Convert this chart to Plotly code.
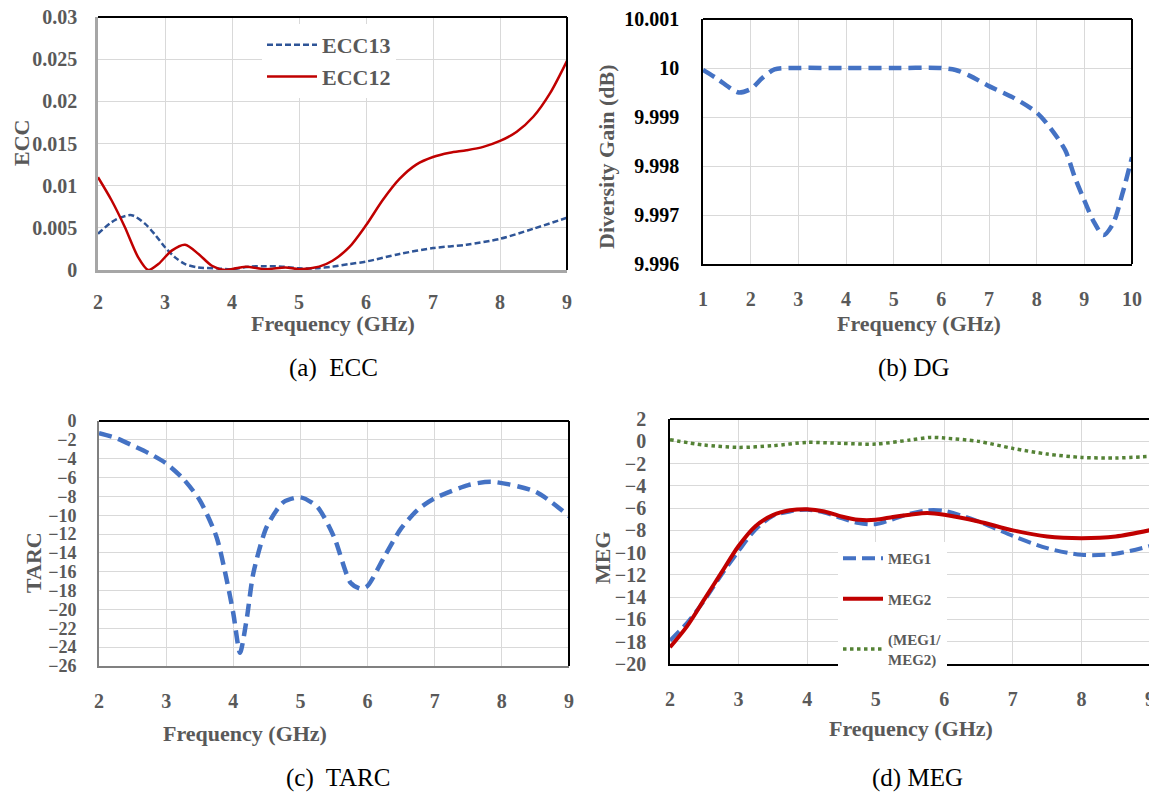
import plotly.graph_objects as go

# The page body has an 8px margin, so the figure is 8px smaller and every
# reference pixel position is shifted by OFF.
PAGE_W, PAGE_H = 1157, 793
OFF = 8
W, H = PAGE_W - OFF, PAGE_H - OFF

# ---------------- data ----------------
ecc13_freq = [2, 2.25, 2.5, 2.7, 2.85, 3.0, 3.15, 3.3, 3.5, 3.75, 4.0, 4.25, 4.5, 4.75, 5.0, 5.25, 5.5, 5.75, 6.0, 6.5, 7.0, 7.5, 8.0, 8.5, 9.0]
ecc13 = [0.0043, 0.0059, 0.0065, 0.0055, 0.0042, 0.0027, 0.0015, 0.0007, 0.0003, 0.0002, 0.0001, 0.0004, 0.00045, 0.0004, 0.0002, 0.0002, 0.0004, 0.0007, 0.001, 0.0019, 0.0026, 0.003, 0.0037, 0.0049, 0.0062]

ecc12_freq = [2, 2.2, 2.4, 2.6, 2.75, 2.9, 3.1, 3.3, 3.5, 3.7, 3.9, 4.2, 4.5, 4.8, 5.0, 5.3, 5.5, 5.75, 6.0, 6.25, 6.5, 6.75, 7.0, 7.25, 7.5, 7.75, 8.0, 8.25, 8.5, 8.75, 9.0]
ecc12 = [0.011, 0.0083, 0.0051, 0.0015, 0.0, 0.0007, 0.0023, 0.003, 0.0019, 0.0005, 0.0, 0.0004, 0.0001, 0.0003, 0.0001, 0.0004, 0.0011, 0.0027, 0.0053, 0.0083, 0.0108, 0.0125, 0.0134, 0.0139, 0.0142, 0.0146, 0.0153, 0.0164, 0.0182, 0.021, 0.0248]
ecc_tickvals = [0, 0.005, 0.01, 0.015, 0.02, 0.025, 0.03]
ecc_ticktext = ["0", "0.005", "0.01", "0.015", "0.02", "0.025", "0.03"]

dg_freq = [1, 1.3, 1.6, 1.75, 2, 2.25, 2.5, 3, 4, 5, 6, 6.3, 6.6, 7, 7.5, 8, 8.3, 8.6, 8.8, 9.0, 9.2, 9.4, 9.6, 9.8, 10]
dg = [9.99996, 9.99978, 9.99957, 9.9995, 9.99957, 9.9998, 9.99997, 10.0, 10.0, 10.0, 10.0, 9.99996, 9.99984, 9.99963, 9.9994, 9.99909, 9.99876, 9.99832, 9.99777, 9.9973, 9.99686, 9.99659, 9.99682, 9.99744, 9.99818]
dg_tickvals = [9.996, 9.997, 9.998, 9.999, 10.0, 10.001]
dg_ticktext = ["9.996", "9.997", "9.998", "9.999", "10", "10.001"]

tarc_freq = [2, 2.25, 2.5, 2.75, 3, 3.25, 3.5, 3.75, 3.9, 4.0, 4.1, 4.2, 4.3, 4.5, 4.75, 5, 5.25, 5.5, 5.75, 5.9, 6.0, 6.25, 6.5, 6.75, 7, 7.5, 7.85, 8.5, 9]
tarc = [-1.3, -1.8, -2.6, -3.45, -4.5, -6.1, -8.4, -12.3, -16.8, -20.4, -24.6, -21, -16.1, -11.2, -8.6, -8.1, -9.1, -12.3, -17.2, -17.8, -17.5, -14.4, -11.4, -9.4, -8.2, -6.8, -6.45, -7.5, -10.1]

meg_freq = [2, 2.25, 2.5, 2.75, 3, 3.25, 3.5, 3.75, 4, 4.25, 4.5, 4.75, 5, 5.25, 5.5, 5.75, 6, 6.5, 7, 7.5, 8, 8.5, 9]
meg1 = [-17.9, -16.3, -14.3, -12.0, -9.85, -7.9, -6.7, -6.3, -6.15, -6.4, -6.9, -7.35, -7.45, -7.0, -6.5, -6.2, -6.25, -7.2, -8.5, -9.6, -10.2, -10.1, -9.4]
meg2 = [-18.5, -16.6, -14.2, -11.8, -9.4, -7.6, -6.63, -6.2, -6.1, -6.3, -6.75, -7.05, -7.05, -6.8, -6.6, -6.45, -6.6, -7.2, -8.0, -8.55, -8.7, -8.55, -7.98]
ratio_freq = [2, 2.5, 3, 3.5, 4, 4.5, 5, 5.5, 5.8, 6, 6.5, 7, 7.5, 8, 8.5, 9]
ratio = [0.14, -0.34, -0.55, -0.4, -0.1, -0.19, -0.25, 0.11, 0.35, 0.29, -0.01, -0.64, -1.15, -1.45, -1.5, -1.36]

# ---------------- style ----------------
SERIF = "Liberation Serif, Times New Roman, serif"
GRAY = "#595959"
GRID = "#D9D9D9"
BLUE = "#4472C4"
DBLUE = "#2F5597"
RED = "#C00000"
GREEN = "#548235"
EPS = 1e-9


def px(x):
    return (x - OFF) / W


def py(y):
    return 1 - (y - OFF) / H


def dx(a, b):
    return [px(a), px(b)]


def dy(t, b):
    return [py(b), py(t)]


fig = go.Figure()

# Panel (a)
fig.add_trace(go.Scatter(x=ecc13_freq, y=ecc13, mode="lines", name="ECC13",
                         line=dict(color=DBLUE, width=2.5, dash="6px,3px", shape="spline", smoothing=0.8),
                         xaxis="x", yaxis="y", legend="legend"))
fig.add_trace(go.Scatter(x=ecc12_freq, y=ecc12, mode="lines", name="ECC12",
                         line=dict(color=RED, width=2.5, shape="spline", smoothing=0.8),
                         xaxis="x", yaxis="y", legend="legend"))
# Panel (b)
fig.add_trace(go.Scatter(x=dg_freq, y=dg, mode="lines", name="DG", showlegend=False,
                         line=dict(color=BLUE, width=4.5, dash="13px,7px", shape="spline", smoothing=0.8),
                         xaxis="x2", yaxis="y2"))
# Panel (c)
fig.add_trace(go.Scatter(x=tarc_freq, y=tarc, mode="lines", name="TARC", showlegend=False,
                         line=dict(color=BLUE, width=4.5, dash="13px,7px", shape="spline", smoothing=0.7),
                         xaxis="x3", yaxis="y3"))
# Panel (d)
fig.add_trace(go.Scatter(x=meg_freq, y=meg1, mode="lines", name="MEG1", legendgroup="m1",
                         line=dict(color=BLUE, width=4, dash="13px,6px", shape="spline", smoothing=0.8),
                         xaxis="x4", yaxis="y4", legend="legend2"))
fig.add_trace(go.Scatter(x=meg_freq, y=meg2, mode="lines", name="MEG2", legendgroup="m2",
                         line=dict(color=RED, width=4, shape="spline", smoothing=0.8),
                         xaxis="x4", yaxis="y4", legend="legend2"))
fig.add_trace(go.Scatter(x=ratio_freq, y=ratio, mode="lines", name="(MEG1/<br>MEG2)", legendgroup="m3",
                         line=dict(color=GREEN, width=3.5, dash="dot", shape="spline", smoothing=0.8),
                         xaxis="x4", yaxis="y4", legend="legend2"))

tickf = dict(family=SERIF, size=20, color=GRAY, weight="bold")
tickf_small = dict(family=SERIF, size=18, color=GRAY, weight="bold")
tickf_black = dict(family=SERIF, size=20, color="black", weight="bold")


def xax(domain, rng, anchor, dtick, standoff, linecolor="black", lw=1.5):
    return dict(domain=domain, range=rng, anchor=anchor, dtick=dtick, tick0=rng[0],
                showgrid=True, gridcolor=GRID, gridwidth=1, zeroline=False,
                showline=True, linecolor=linecolor, linewidth=lw, mirror=False,
                ticks="", tickfont=tickf, ticklabelstandoff=standoff, fixedrange=True,
                automargin=False, ticklabeloverflow="allow")


def yax(domain, rng, anchor, dtick, standoff, font=tickf, linecolor="black", lw=1.5):
    return dict(domain=domain, range=rng, anchor=anchor, dtick=dtick, tick0=rng[0],
                showgrid=True, gridcolor=GRID, gridwidth=1, zeroline=False,
                showline=True, linecolor=linecolor, linewidth=lw, mirror=False,
                ticks="", tickfont=font, ticklabelstandoff=standoff, fixedrange=True,
                automargin=False, ticklabeloverflow="allow")


# plot-area pixel boxes in page pixels (left, right, top, bottom)
A = (98, 567, 17, 270)
B = (703, 1132, 19, 264)
C = (99, 569, 421, 666)
D = (670, 1150, 419, 664)

fig.update_layout(
    width=W, height=H, margin=dict(l=0, r=0, t=0, b=0, autoexpand=False),
    paper_bgcolor="white", plot_bgcolor="white",
    xaxis=xax(dx(A[0], A[1]), [2, 9], "y", 1, 12, linecolor="#A6A6A6", lw=2.5),
    yaxis=dict(yax(dy(A[2], A[3]), [0, 0.03 + EPS], "x", 0.005, 14, linecolor="#A6A6A6", lw=2.5),
               tickmode="array", tickvals=ecc_tickvals, ticktext=ecc_ticktext),
    xaxis2=xax(dx(B[0], B[1]), [1, 10], "y2", 1, 16),
    yaxis2=dict(yax(dy(B[2], B[3]), [9.996, 10.001 + EPS], "x2", 0.001, 18, font=tickf_black),
                tickmode="array", tickvals=dg_tickvals, ticktext=dg_ticktext),
    xaxis3=xax(dx(C[0], C[1]), [2, 9], "y3", 1, 16, linecolor="#808080", lw=2),
    yaxis3=yax(dy(C[2], C[3]), [-26, 0], "x3", 2, 17, font=tickf_small, linecolor="#808080", lw=2),
    xaxis4=xax(dx(D[0], D[1]), [2, 9], "y4", 1, 16),
    yaxis4=yax(dy(D[2], D[3]), [-20, 2], "x4", 2, 18),
    legend=dict(x=px(262), y=py(24), xanchor="left", yanchor="top",
                bgcolor="white", borderwidth=0,
                font=dict(family=SERIF, size=22, color=GRAY, weight="bold"),
                tracegroupgap=6, itemwidth=50),
    legend2=dict(x=px(838), y=py(542), xanchor="left", yanchor="top",
                 bgcolor="white", borderwidth=0,
                 font=dict(family=SERIF, size=15, color=GRAY, weight="bold"),
                 tracegroupgap=18, itemwidth=40),
)

# black frame (top/right)
shapes = []
for xr, yr in [("x domain", "y domain"), ("x2 domain", "y2 domain"),
               ("x3 domain", "y3 domain"), ("x4 domain", "y4 domain")]:
    shapes.append(dict(type="line", xref=xr, yref=yr, x0=0, x1=1, y0=1, y1=1, line=dict(color="black", width=2)))
    shapes.append(dict(type="line", xref=xr, yref=yr, x0=1, x1=1, y0=0, y1=1, line=dict(color="black", width=2)))
fig.update_layout(shapes=shapes)

titlef = dict(family=SERIF, size=22, color=GRAY, weight="bold")
capf = dict(family=SERIF, size=25, color="black")


def ann(text, x, y, font, angle=0):
    return dict(text=text, x=px(x), y=py(y), xref="paper", yref="paper",
                showarrow=False, font=font, textangle=angle, xanchor="center", yanchor="middle")


annotations = [
    ann("Frequency (GHz)", 333, 323, titlef),
    ann("ECC", 22, 143, titlef, -90),
    ann("(a)  ECC", 333, 368, capf),
    ann("Frequency (GHz)", 919, 323, titlef),
    ann("Diversity Gain (dB)", 607, 157, titlef, -90),
    ann("(b) DG", 914, 368, capf),
    ann("Frequency (GHz)", 245, 733, titlef),
    ann("TARC", 33, 563, titlef, -90),
    ann("(c)  TARC", 338, 778, capf),
    ann("Frequency (GHz)", 911, 728, titlef),
    ann("MEG", 602, 558, titlef, -90),
    ann("(d) MEG", 917, 778, capf),
]
fig.update_layout(annotations=annotations)

fig.write_html("out.html")
